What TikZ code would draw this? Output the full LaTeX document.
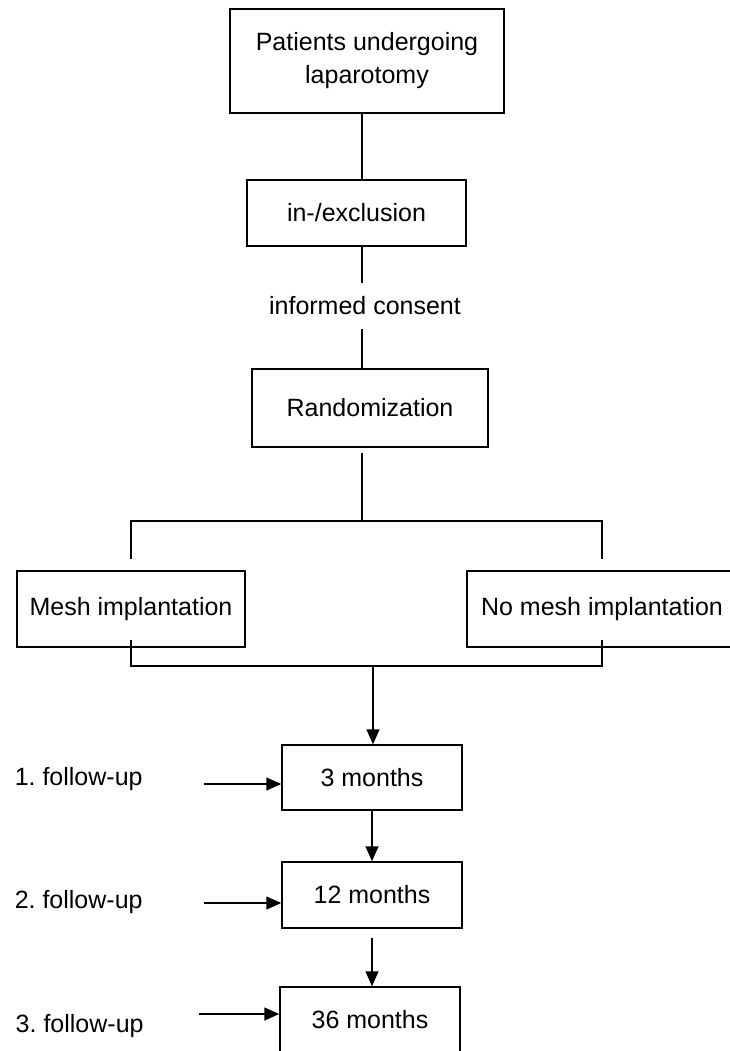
\documentclass[tikz,border=0pt]{standalone}
\usepackage{fontspec}
\setmainfont{Liberation Sans}
\usetikzlibrary{arrows.meta}
\frenchspacing

\begin{document}
\begin{tikzpicture}[x=1pt,y=-1pt,line width=1.5pt,
	box/.style={draw, inner sep=0pt, align=center, font=\fontsize{25}{33}\selectfont},
	txt/.style={inner sep=0pt, font=\fontsize{25}{33}\selectfont},
	arr/.style={-{Triangle[length=15pt,width=13pt]}}]
	\useasboundingbox (0,0) rectangle (730,1051);

	% study flow
	\node[box, minimum width=274, minimum height=104] (pat) at (367,61) {Patients undergoing\\laparotomy};
	\node[box, minimum width=219, minimum height=66] (incl) at (356.5,213) {in-/exclusion};
	\node[txt, minimum height=44] (cons) at (365,306) {informed consent};
	\node[box, minimum width=236, minimum height=78] (rand) at (370,408) {Randomization};
	\node[box, minimum width=228, minimum height=76] (mesh) at (131,609) {Mesh implantation};
	\node[box, minimum width=270, minimum height=76] (nomesh) at (602,609) {No mesh implantation};

	\coordinate (spine) at (362,0);
	\coordinate (split) at (362,521);
	\coordinate (merge) at (373,666);

	\draw (pat.south -| spine) -- (incl.north -| spine);
	\draw (incl.south -| spine) -- (cons.north -| spine);
	\draw (cons.south -| spine) -- (rand.north -| spine);
	\draw (rand.south -| split) ++(0,5) -- (split);
	\draw ([yshift=11pt]mesh.north) |- (split) -| ([yshift=11pt]nomesh.north);
	\draw ([yshift=8pt]mesh.south) |- (merge) -| ([yshift=8pt]nomesh.south);

	% follow-up
	\node[box, minimum width=180, minimum height=65] (m3) at (372,777.5) {3 months};
	\node[box, minimum width=180, minimum height=66] (m12) at (372,895) {12 months};
	\node[box, minimum width=180, minimum height=66] (m36) at (370,1020) {36 months};

	\draw[arr] (merge) -- (merge |- m3.north);
	\draw[arr] (m3.south) -- (m12.north);
	\draw[arr] (m12.south) ++(0,9) -- (m12.south |- m36.north);

	\node[txt, anchor=west] (fu1) at (14,779) {1. follow-up};
	\node[txt, anchor=west] (fu2) at (14,902) {2. follow-up};
	\node[txt, anchor=west] (fu3) at (15,1026) {3. follow-up};

	\draw[arr] (fu1.east) ++(61,5) coordinate (a1) -- (a1 -| m3.west);
	\draw[arr] (fu2.east) ++(61,1) coordinate (a2) -- (a2 -| m12.west);
	\draw[arr] (fu3.east) ++(55,-12) coordinate (a3) -- (a3 -| m36.west);
\end{tikzpicture}
\end{document}
